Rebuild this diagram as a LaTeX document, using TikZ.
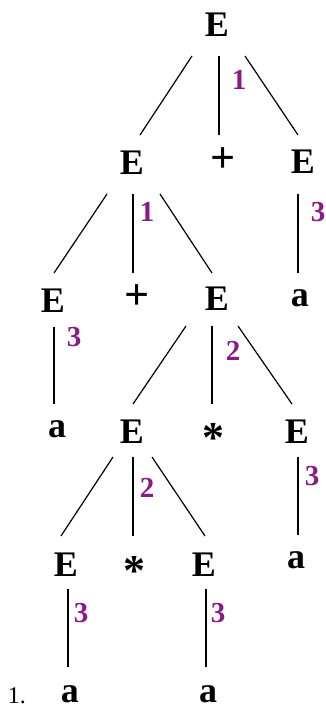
\documentclass[tikz,border=0pt]{standalone}
\usepackage{fontspec}
\setmainfont{Liberation Serif}
\definecolor{ruleC}{HTML}{8B1A89}
\tikzset{
  sym/.style={font=\fontsize{18}{21}\selectfont\bfseries, inner sep=0pt},
  op/.style={font=\fontsize{22}{24}\selectfont\bfseries, inner sep=0pt},
  rnum/.style={font=\fontsize{14.5}{17}\selectfont\bfseries, text=ruleC, inner sep=0pt},
  br/.style={line width=0.6pt},
  itemno/.style={font=\fontsize{12}{14}\selectfont, inner sep=0pt, anchor=base},
}

\begin{document}
\begin{tikzpicture}[x=0.5pt,y=-0.5pt]
\useasboundingbox (0,0) rectangle (326,709);

% ===================== symbols, row by row ========================
\node[sym] (root) at (217,25) {E};
% row 1
\node[sym] (eL)    at (132,163) {E};
\node[op]  (plusA) at (223,160) {+};
\node[sym] (eR)    at (303,162) {E};
% row 2
\node[sym] (eLL)   at (53,301)  {E};
\node[op]  (plusB) at (137,297) {+};
\node[sym] (eLR)   at (217,299) {E};
\node[sym] (aR)    at (300,298) {a};
% row 3
\node[sym] (aLL)   at (57,429)  {a};
\node[sym] (eM)    at (132,432) {E};
\node[op]  (star)  at (213,438) {*};
\node[sym] (eMR)   at (297,432) {E};
% row 4
\node[sym] (eMa)   at (66,565)  {E};
\node[op]  (starB) at (135,571) {*};
\node[sym] (eMb)   at (204,565) {E};
\node[sym] (aMR)   at (296,560) {a};
% row 5
\node[sym] (aMa)   at (70,694)  {a};
\node[sym] (aMb)   at (208,694) {a};
\node[itemno] (num) at (17,703) {1.};

% ===================== branches ========================
\draw[br] ([shift={(-25,31)}]root.center) -- ([shift={(8,-28)}]eL.center);
\draw[br] ([shift={(2,31)}]root.center)   -- ([shift={(-4,-25)}]plusA.center);
\draw[br] ([shift={(28,31)}]root.center)  -- ([shift={(-5,-27)}]eR.center);

\draw[br] ([shift={(-25,31)}]eL.center) -- ([shift={(1,-28)}]eLL.center);
\draw[br] ([shift={(1,31)}]eL.center)   -- ([shift={(-4,-24)}]plusB.center);
\draw[br] ([shift={(28,31)}]eL.center)  -- ([shift={(-5,-26)}]eLR.center);
\draw[br] ([shift={(-5,32)}]eR.center)  -- ([shift={(-2,-25)}]aR.center);

\draw[br] ([shift={(1,26)}]eLL.center)   -- ([shift={(-3,-25)}]aLL.center);
\draw[br] ([shift={(-31,27)}]eLR.center) -- ([shift={(1,-28)}]eM.center);
\draw[br] ([shift={(-5,27)}]eLR.center)  -- ([shift={(-1,-34)}]star.center);
\draw[br] ([shift={(21,27)}]eLR.center)  -- ([shift={(-5,-28)}]eMR.center);

\draw[br] ([shift={(-19,25)}]eM.center) -- ([shift={(-5,-29)}]eMa.center);
\draw[br] ([shift={(1,25)}]eM.center)   -- ([shift={(-2,-35)}]starB.center);
\draw[br] ([shift={(20,25)}]eM.center)  -- ([shift={(1,-29)}]eMb.center);
\draw[br] ([shift={(1,25)}]eMR.center)  -- ([shift={(2,-25)}]aMR.center);

\draw[br] ([shift={(2,24)}]eMa.center) -- ([shift={(-2,-27)}]aMa.center);
\draw[br] ([shift={(2,24)}]eMb.center) -- ([shift={(-2,-27)}]aMb.center);

% ===================== rule numbers ========================
\node[rnum] (r1a) at (239,80)  {1};
\node[rnum] (r1b) at (147,212) {1};
\node[rnum] (r3a) at (318,212) {3};
\node[rnum] (r3b) at (74,337)  {3};
\node[rnum] (r2a) at (233,351) {2};
\node[rnum] (r2b) at (147,488) {2};
\node[rnum] (r3c) at (312,476) {3};
\node[rnum] (r3d) at (81,613)  {3};
\node[rnum] (r3e) at (218,613) {3};

\end{tikzpicture}
\end{document}
